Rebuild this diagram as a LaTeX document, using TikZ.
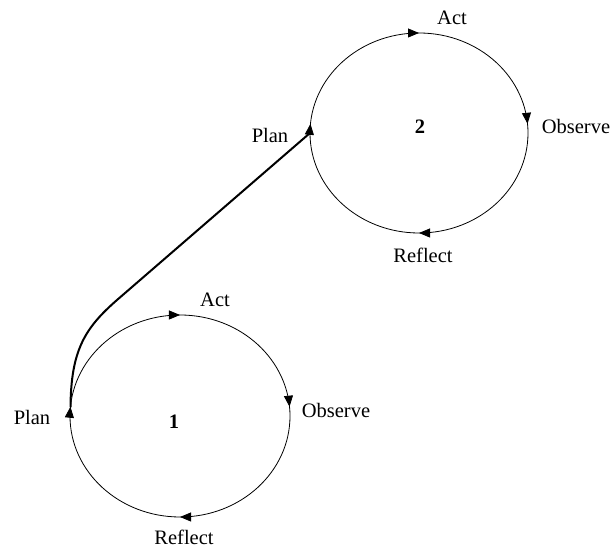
\documentclass[tikz,border=0pt]{standalone}
\usepackage{fontspec}
\setmainfont{Liberation Serif}
\usetikzlibrary{arrows.meta, decorations.markings}

\tikzset{
  cyclering/.style={line width=0.8pt, postaction={decorate},
    decoration={markings,
      mark=at position 0.014 with {\arrowreversed{Triangle[length=11pt,width=9pt]}},
      mark=at position 0.25 with {\arrowreversed{Triangle[length=11pt,width=9pt]}},
      mark=at position 0.486 with {\arrowreversed{Triangle[length=11pt,width=9pt]}},
      mark=at position 0.75 with {\arrowreversed{Triangle[length=11pt,width=9pt]}}}},
  stagelabel/.style={font=\fontsize{20.5}{24}\selectfont, inner sep=0pt},
  cyclenum/.style={font=\fontsize{20.5}{24}\selectfont\bfseries, inner sep=0pt},
  link/.style={line width=2pt, line cap=round}
}

\begin{document}
\begin{tikzpicture}[x=1pt, y=1pt]
    \useasboundingbox (0,0) rectangle (613,548);

    % first cycle
    \coordinate (c1) at (180,132);
    \draw[cyclering] (c1) ellipse [x radius=110pt, y radius=101pt];
    \node[cyclenum] (num1) at (174,126) {1};
    \node[stagelabel] (act1) at (215,248) {Act};
    \node[stagelabel] (observe1) at (336,138) {Observe};
    \node[stagelabel] (reflect1) at (184,11) {Reflect};
    \node[stagelabel] (plan1) at (32,131) {Plan};
    \coordinate (plan1pt) at (70.5,141);

    % second cycle
    \coordinate (c2) at (419,415);
    \draw[cyclering] (c2) ellipse [x radius=109pt, y radius=100pt];
    \node[cyclenum] (num2) at (420,421) {2};
    \node[stagelabel] (act2) at (452,530) {Act};
    \node[stagelabel] (observe2) at (576,422) {Observe};
    \node[stagelabel] (reflect2) at (423,293) {Reflect};
    \node[stagelabel] (plan2) at (270,413) {Plan};
    \coordinate (plan2pt) at (310,415);

    % from one cycle into the next
    \draw[link] (plan1pt) .. controls (71,198) and (85,220) .. (117,248) -- (plan2pt);
  \end{tikzpicture}
\end{document}
